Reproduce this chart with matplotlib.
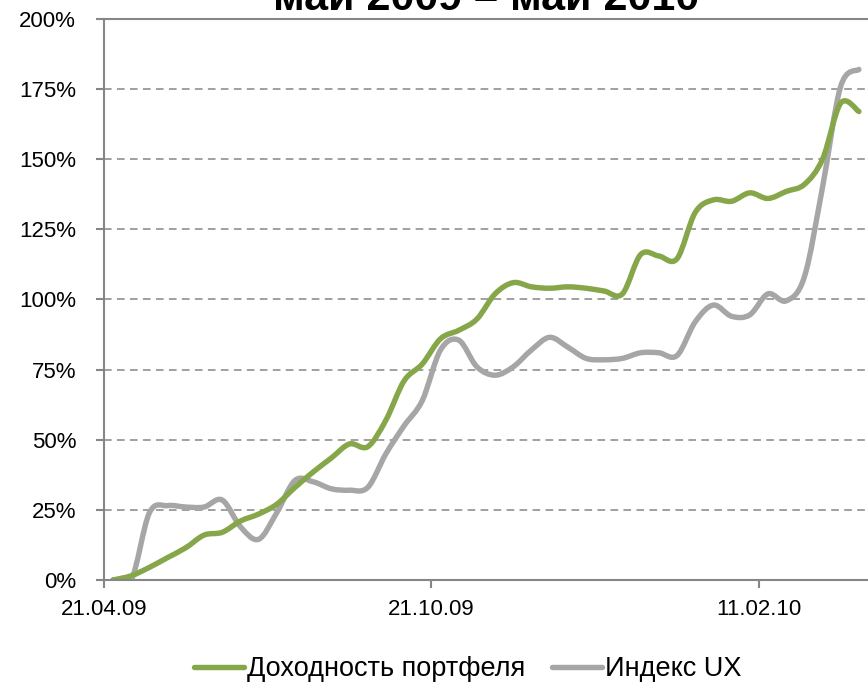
import numpy as np
import matplotlib
matplotlib.use("Agg")
import matplotlib.pyplot as plt
from matplotlib.path import Path
from matplotlib.patches import PathPatch
from matplotlib.lines import Line2D

plt.rcParams['font.family'] = ['Liberation Sans', 'DejaVu Sans']

title = "май 2009 – май 2010"
tick_dates = ["21.04.09", "21.10.09", "11.02.10"]
tick_every = 18
series_names = ["Доходность портфеля", "Индекс UX"]

# weekly returns, %
portfolio = [0, 1.5, 4.5, 8, 11.5, 16, 17, 21, 23.5, 27,
             33, 38.5, 43.5, 48.5, 47.5, 57, 71, 77, 86, 89,
             93, 102, 106, 104.5, 104, 104.5, 104, 103, 102, 116,
             115.5, 114.5, 131, 135.5, 135, 138, 136, 138.5, 141, 150,
             170, 167]
ux_index = [0, 0, 24, 26.5, 26, 26, 28.5, 19, 14.5, 24,
            35.5, 35, 32.5, 32, 33, 45, 55, 64, 82, 85.5,
            76, 73, 76, 82, 86.5, 83, 79, 78.5, 79, 81,
            81, 80, 92, 98, 94, 94.5, 102, 99.5, 108, 140,
            176, 182]

green = "#86a64a"
grey = "#a6a6a6"
axis_grey = "#868686"


def smooth_path(x, y):
    # Excel-like smoothed line: cubic bezier segments through the points
    x = np.asarray(x, float)
    y = np.asarray(y, float)
    n = len(x)
    verts = [(x[0], y[0])]
    codes = [Path.MOVETO]
    for i in range(n - 1):
        i0 = max(i - 1, 0)
        i3 = min(i + 2, n - 1)
        c1 = (x[i] + (x[i + 1] - x[i0]) / 6, y[i] + (y[i + 1] - y[i0]) / 6)
        c2 = (x[i + 1] - (x[i3] - x[i]) / 6, y[i + 1] - (y[i3] - y[i]) / 6)
        verts += [c1, c2, (x[i + 1], y[i + 1])]
        codes += [Path.CURVE4] * 3
    return Path(verts, codes)


fig = plt.figure(figsize=(8.68, 6.94), dpi=100)
ax = fig.add_axes([0.1198, 0.1643, 0.8802, 0.8084])

xs = np.arange(len(portfolio))
for vals, col in [(ux_index, grey), (portfolio, green)]:
    ax.add_patch(PathPatch(smooth_path(xs, vals), facecolor="none",
                           edgecolor=col, lw=3.9, capstyle="round",
                           joinstyle="round"))

ax.set_xlim(-0.5, len(portfolio) - 0.5)
ax.set_ylim(0, 200)
ax.set_yticks(np.arange(0, 201, 25))
ax.set_yticklabels([f"{v}%" for v in range(0, 201, 25)])
ax.set_xticks([-0.5 + k * tick_every for k in range(len(tick_dates))])
ax.set_xticklabels(tick_dates)

ax.grid(axis="y", color=axis_grey, lw=1.1, linestyle=(0, (5, 3.5)))
ax.set_axisbelow(True)
for s in ["left", "bottom", "top"]:
    ax.spines[s].set_color(axis_grey)
    ax.spines[s].set_linewidth(1.5)
ax.spines["right"].set_visible(False)
ax.tick_params(axis="y", length=6, width=1.5, color=axis_grey, pad=14,
               labelsize=16)
ax.tick_params(axis="x", length=6, width=1.5, color=axis_grey, pad=8,
               labelsize=16)

ax.set_title(title, fontsize=31, fontweight="bold", pad=3)

handles = [Line2D([], [], color=green, lw=3.9, solid_capstyle="round"),
           Line2D([], [], color=grey, lw=3.9, solid_capstyle="round")]
fig.legend(handles, series_names, loc="center", ncol=2,
           bbox_to_anchor=(0.539, 0.036), frameon=False, fontsize=19.5,
           handlelength=1.85, handletextpad=0.1, columnspacing=1.0)

fig.savefig("out.png", dpi=100)
